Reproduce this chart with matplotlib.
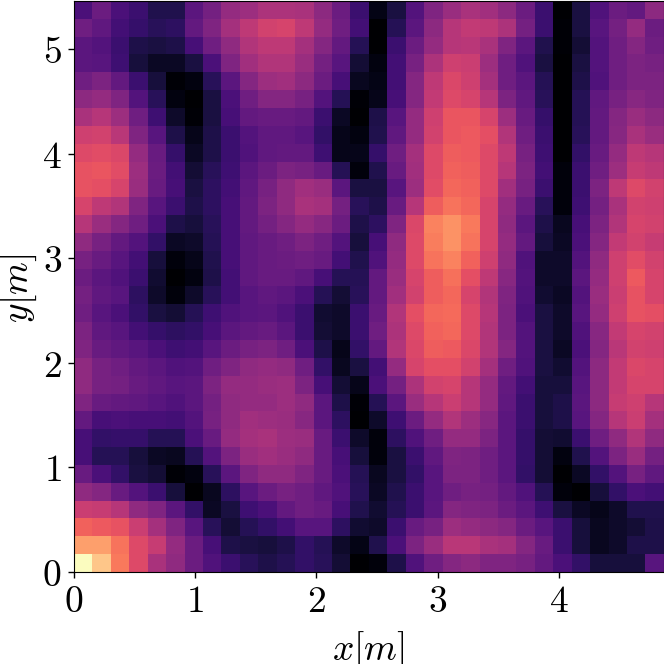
import numpy as np
import matplotlib
matplotlib.use("Agg")
import matplotlib.pyplot as plt

plt.rcParams['mathtext.fontset'] = 'cm'

# rows listed from the top of the picture down
field = [
    [.24,.32,.24,.20,.14,.14,.28,.34,.42,.44,.48,.48,.47,.40,.32,.20,.04,.12,.26,.37,.43,.47,.45,.40,.32,.20,.00,.12,.25,.32,.30,.40],
    [.33,.29,.22,.19,.16,.17,.30,.37,.46,.52,.57,.58,.52,.42,.33,.22,.00,.15,.28,.40,.50,.53,.52,.48,.34,.20,.01,.12,.27,.34,.42,.32],
    [.28,.26,.20,.13,.12,.13,.23,.33,.41,.49,.52,.52,.46,.38,.30,.15,.00,.20,.32,.42,.50,.51,.47,.37,.28,.14,.01,.10,.26,.33,.38,.33],
    [.28,.27,.21,.11,.07,.07,.12,.24,.37,.45,.49,.49,.43,.34,.27,.10,.03,.22,.35,.48,.56,.55,.44,.33,.25,.12,.00,.12,.26,.33,.36,.35],
    [.33,.36,.30,.20,.11,.01,.03,.16,.28,.38,.44,.45,.40,.32,.23,.06,.04,.22,.38,.52,.59,.56,.46,.33,.28,.15,.00,.13,.25,.33,.36,.36],
    [.40,.42,.37,.26,.16,.03,.00,.12,.24,.33,.38,.38,.35,.26,.15,.01,.05,.23,.38,.53,.60,.58,.50,.36,.29,.16,.00,.15,.29,.35,.39,.37],
    [.47,.50,.44,.33,.21,.08,.01,.12,.23,.30,.31,.31,.30,.20,.07,.00,.13,.27,.42,.56,.64,.64,.58,.44,.31,.19,.00,.15,.30,.38,.43,.40],
    [.56,.57,.51,.37,.27,.13,.05,.13,.20,.26,.29,.29,.27,.18,.05,.03,.14,.29,.42,.57,.64,.65,.62,.49,.33,.20,.00,.16,.30,.39,.47,.43],
    [.60,.61,.59,.42,.31,.19,.07,.13,.20,.25,.29,.30,.30,.21,.05,.05,.19,.33,.46,.60,.66,.65,.60,.52,.35,.21,.00,.18,.31,.42,.52,.50],
    [.63,.64,.61,.44,.32,.22,.10,.16,.21,.28,.32,.36,.35,.31,.15,.02,.14,.31,.45,.60,.67,.66,.60,.50,.36,.22,.02,.20,.33,.44,.54,.52],
    [.63,.62,.58,.43,.31,.23,.12,.17,.22,.29,.35,.41,.45,.43,.28,.12,.12,.27,.44,.61,.68,.67,.60,.45,.35,.20,.02,.20,.36,.52,.60,.57],
    [.58,.52,.49,.37,.27,.20,.13,.17,.23,.30,.36,.41,.47,.46,.34,.16,.13,.31,.50,.66,.71,.68,.58,.42,.31,.16,.02,.21,.34,.47,.57,.56],
    [.50,.43,.38,.33,.24,.13,.11,.16,.23,.30,.34,.38,.42,.39,.32,.13,.17,.37,.59,.74,.77,.72,.58,.41,.28,.13,.06,.23,.36,.49,.58,.57],
    [.41,.35,.30,.26,.18,.07,.08,.15,.23,.29,.31,.33,.36,.33,.26,.11,.23,.41,.60,.73,.77,.71,.58,.42,.30,.11,.07,.24,.38,.53,.57,.54],
    [.35,.31,.27,.22,.11,.02,.05,.14,.23,.29,.31,.32,.33,.31,.22,.14,.25,.42,.60,.71,.74,.67,.56,.41,.25,.08,.08,.26,.41,.56,.61,.57],
    [.32,.28,.25,.20,.09,.00,.03,.13,.22,.29,.31,.31,.29,.23,.15,.15,.30,.43,.58,.66,.70,.62,.52,.39,.26,.08,.08,.28,.42,.56,.65,.58],
    [.34,.29,.27,.17,.08,.02,.08,.16,.22,.27,.29,.28,.24,.15,.10,.16,.30,.45,.57,.66,.68,.58,.49,.37,.25,.09,.07,.26,.43,.55,.63,.58],
    [.33,.27,.24,.18,.12,.10,.15,.21,.25,.27,.28,.25,.20,.09,.08,.20,.31,.49,.62,.68,.69,.60,.50,.36,.24,.12,.08,.27,.42,.56,.63,.62],
    [.36,.29,.27,.22,.19,.17,.18,.23,.28,.30,.31,.28,.20,.10,.08,.20,.33,.48,.60,.67,.68,.60,.49,.36,.26,.12,.08,.25,.39,.53,.58,.57],
    [.37,.31,.29,.27,.24,.21,.22,.27,.32,.35,.36,.33,.24,.13,.05,.18,.30,.49,.59,.66,.65,.59,.49,.38,.26,.12,.07,.24,.38,.51,.57,.56],
    [.41,.35,.33,.30,.28,.25,.26,.33,.37,.41,.42,.41,.33,.18,.06,.12,.22,.42,.58,.62,.62,.57,.46,.33,.25,.12,.09,.26,.40,.53,.59,.58],
    [.41,.35,.34,.31,.29,.27,.28,.36,.42,.42,.43,.44,.36,.23,.10,.05,.24,.34,.48,.57,.58,.50,.42,.30,.22,.11,.11,.27,.40,.53,.58,.58],
    [.37,.31,.30,.29,.27,.25,.28,.34,.41,.42,.42,.44,.41,.28,.13,.01,.15,.28,.43,.50,.55,.50,.42,.29,.20,.11,.13,.28,.40,.54,.56,.50],
    [.30,.23,.24,.23,.23,.22,.26,.35,.41,.45,.44,.43,.39,.28,.17,.00,.08,.21,.32,.42,.49,.44,.39,.28,.20,.11,.13,.27,.38,.50,.55,.46],
    [.23,.18,.19,.19,.15,.15,.24,.31,.42,.46,.47,.44,.43,.31,.20,.08,.02,.17,.25,.33,.42,.42,.36,.28,.19,.10,.09,.20,.33,.41,.49,.41],
    [.23,.15,.15,.11,.07,.06,.15,.26,.36,.43,.45,.43,.41,.31,.23,.11,.02,.12,.20,.29,.37,.36,.33,.28,.19,.10,.03,.14,.26,.36,.43,.34],
    [.31,.24,.18,.12,.10,.01,.03,.16,.28,.37,.41,.41,.37,.31,.24,.15,.06,.12,.18,.27,.36,.36,.33,.28,.18,.10,.00,.07,.18,.26,.35,.29],
    [.41,.38,.31,.26,.20,.11,.00,.06,.17,.27,.32,.35,.33,.29,.25,.16,.07,.14,.20,.27,.33,.35,.34,.30,.25,.15,.02,.00,.11,.18,.24,.22],
    [.55,.54,.50,.41,.37,.28,.18,.07,.12,.21,.24,.30,.33,.31,.23,.14,.09,.15,.20,.28,.38,.37,.36,.32,.28,.21,.12,.07,.05,.08,.14,.14],
    [.67,.65,.63,.55,.46,.37,.27,.16,.10,.15,.18,.22,.27,.27,.17,.09,.08,.20,.31,.35,.44,.42,.40,.38,.32,.27,.20,.11,.06,.08,.10,.13],
    [.80,.80,.71,.60,.54,.42,.32,.23,.13,.12,.11,.13,.18,.15,.08,.04,.14,.24,.36,.43,.51,.51,.47,.46,.38,.31,.20,.11,.06,.08,.13,.13],
    [1.0,.88,.72,.60,.47,.41,.32,.25,.20,.16,.13,.15,.18,.16,.10,.00,.02,.13,.25,.33,.38,.40,.37,.37,.35,.30,.24,.18,.11,.11,.11,.27],
]
x_max = 4.86
y_max = 5.46
x_ticks = [0, 1, 2, 3, 4]
y_ticks = [0, 1, 2, 3, 4, 5]

fig = plt.figure(figsize=(6.64, 6.64), dpi=100)
ax = fig.add_axes([73.5/664, 1 - 572/664, 590/664, 571/664])
ax.imshow(np.array(field), cmap='magma', vmin=0, vmax=1, aspect='auto',
          interpolation='nearest', extent=[0, x_max, 0, y_max])
ax.set_xticks(x_ticks)
ax.set_yticks(y_ticks)
ax.set_xticklabels(['$%d$' % t for t in x_ticks])
ax.set_yticklabels(['$%d$' % t for t in y_ticks])
ax.tick_params(labelsize=27, length=4.5, width=1, pad=4)
ax.set_xlabel('$x[m]$', fontsize=27, labelpad=7)
ax.set_ylabel('$y[m]$', fontsize=27, labelpad=2.5, y=0.497)

fig.savefig('out.png', dpi=100)
